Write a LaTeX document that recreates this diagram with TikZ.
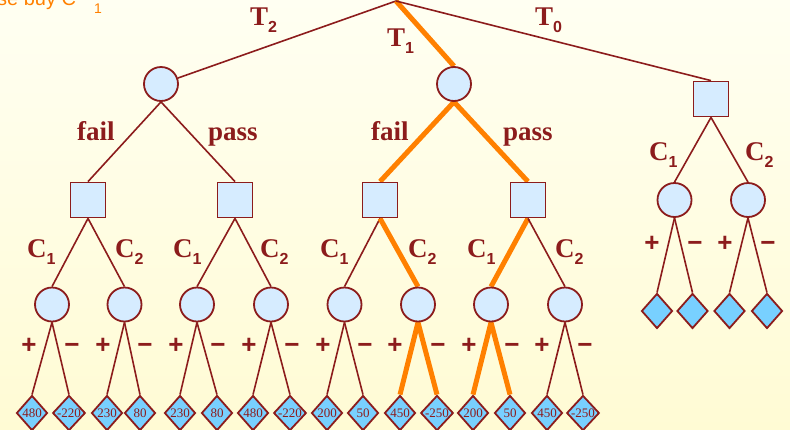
\documentclass[tikz,border=0pt]{standalone}
\usepackage{fontspec}
\setmainfont{Liberation Serif}
\newfontfamily\sansf{Liberation Sans}
\usetikzlibrary{shapes.geometric}
\pgfdeclarelayer{back}
\pgfdeclarelayer{bg}
\pgfsetlayers{back,bg,main}
\definecolor{dred}{RGB}{140,28,28}
\definecolor{cblue}{RGB}{214,236,255}
\definecolor{dblue}{RGB}{120,208,255}
\definecolor{orng}{RGB}{255,128,0}
\definecolor{bgtop}{RGB}{255,255,242}
\definecolor{bgbot}{RGB}{255,251,212}
\newcommand{\lab}[2]{{\bfseries #1}\raisebox{-7pt}{\sansf\fontsize{16}{16}\selectfont #2}}
\tikzset{
  chance/.style={circle, draw=dred, line width=1.8pt, fill=cblue, minimum size=34pt, inner sep=0pt},
  dec/.style={rectangle, draw=dred, line width=1.8pt, fill=cblue, minimum size=35pt, inner sep=0pt},
  leaf/.style={diamond, draw=dred, line width=1.8pt, fill=dblue, minimum width=31pt, minimum height=35pt, inner sep=0pt, text=dred, font=\fontsize{13}{13}\selectfont},
  lbl/.style={text=dred, font=\fontsize{27}{27}\selectfont\bfseries, inner sep=0pt, anchor=base west},
  pm/.style={text=dred, font=\sansf\bfseries\fontsize{26}{26}\selectfont, inner sep=0pt, anchor=base},
  e/.style={draw=dred, line width=1.6pt},
  o/.style={draw=orng, line width=5pt},
}
\begin{document}
\begin{tikzpicture}[x=1pt,y=-1pt]
\begin{pgfonlayer}{back}
\shade[top color=bgtop, bottom color=bgbot] (0,0) rectangle (790,429);
\end{pgfonlayer}
\useasboundingbox (0,0) rectangle (790,429);
% top fragment of text
\node[text=orng, font=\sansf\fontsize{20}{20}\selectfont, inner sep=0pt, anchor=base west] (hdr) at (-3,5) {se buy C\hspace{18pt}\raisebox{-8pt}{\fontsize{14}{14}\selectfont 1}};
\coordinate (root) at (396,1);
% level 1
\node[chance] (c1) at (161,84) {};
\node[chance] (c2) at (454,84) {};
\node[dec] (s0) at (711,99) {};
% level 2
\node[dec] (sA) at (88,200) {};
\node[dec] (sB) at (235,200) {};
\node[dec] (sC) at (380,200) {};
\node[dec] (sD) at (528,200) {};
\node[chance] (r1) at (674.5,200) {};
\node[chance] (r2) at (748,200) {};
% level 3
\foreach \n/\x in {1/52,2/124.5,3/197,4/271,5/344.5,6/418,7/491,8/565}
  \node[chance] (k\n) at (\x,304.5) {};
% leaves
\node[leaf] (l1) at (32,413) {480};
\node[leaf] (l2) at (69,413) {-220};
\node[leaf] (l3) at (107,413) {230};
\node[leaf] (l4) at (140,413) {80};
\node[leaf] (l5) at (180,413) {230};
\node[leaf] (l6) at (217,413) {80};
\node[leaf] (l7) at (253,413) {480};
\node[leaf] (l8) at (290,413) {-220};
\node[leaf] (l9) at (327,413) {200};
\node[leaf] (l10) at (363,413) {50};
\node[leaf] (l11) at (400,413) {450};
\node[leaf] (l12) at (437,413) {-250};
\node[leaf] (l13) at (473,413) {200};
\node[leaf] (l14) at (510,413) {50};
\node[leaf] (l15) at (547,413) {450};
\node[leaf] (l16) at (583,413) {-250};
\node[leaf] (m1) at (657,311) {};
\node[leaf] (m2) at (692.5,311) {};
\node[leaf] (m3) at (729.5,311) {};
\node[leaf] (m4) at (767,311) {};
% edges
\begin{pgfonlayer}{bg}
\draw[e] (root) -- (c1);
\draw[o] (root) -- (c2.north);
\draw[e] (root) -- (s0.north);
\draw[e] (c1.south) -- (sA.north);
\draw[e] (c1.south) -- (sB.north);
\draw[o] (c2.south) -- (sC.north);
\draw[o] (c2.south) -- (sD.north);
\draw[e] (sA.south) -- (k1.north);
\draw[e] (sA.south) -- (k2.north);
\draw[e] (sB.south) -- (k3.north);
\draw[e] (sB.south) -- (k4.north);
\draw[e] (sC.south) -- (k5.north);
\draw[o] (sC.south) -- (k6.north);
\draw[o] (sD.south) -- (k7.north);
\draw[e] (sD.south) -- (k8.north);
\draw[e] (s0.south) -- (r1.north);
\draw[e] (s0.south) -- (r2.north);
\foreach \k/\a/\b in {1/1/2,2/3/4,3/5/6,4/7/8,5/9/10,8/15/16}{
  \draw[e] (k\k.south) -- (l\a.north);
  \draw[e] (k\k.south) -- (l\b.north);
}
\foreach \k/\a/\b in {6/11/12,7/13/14}{
  \draw[o] (k\k.south) -- (l\a.north);
  \draw[o] (k\k.south) -- (l\b.north);
}
\draw[e] (r1.south) -- (m1.north);
\draw[e] (r1.south) -- (m2.north);
\draw[e] (r2.south) -- (m3.north);
\draw[e] (r2.south) -- (m4.north);
\end{pgfonlayer}
% labels
\node[lbl] (t2) at (250,25) {\lab{T}{2}};
\node[lbl] (t1) at (387,46) {\lab{T}{1}};
\node[lbl] (t0) at (535,25) {\lab{T}{0}};
\node[lbl] (f1) at (77,140) {fail};
\node[lbl] (p1) at (208,140) {pass};
\node[lbl] (f2) at (371,140) {fail};
\node[lbl] (p2) at (503,140) {pass};
\foreach \i/\x/\c in {1/27/1,2/115/2,3/173/1,4/260/2,5/320/1,6/408/2,7/467/1,8/555/2}
  \node[lbl] (cl\i) at (\x,257) {\lab{C}{\c}};
\node[lbl] (cr1) at (649,160) {\lab{C}{1}};
\node[lbl] (cr2) at (745,160) {\lab{C}{2}};
\foreach \i/\x in {1/29,2/103,3/176,4/249,5/323,6/395,7/469,8/542}
  \node[pm] (pl\i) at (\x,353.5) {+};
\foreach \i/\x in {1/72,2/145,3/218,4/292,5/365,6/438,7/512,8/585}
  \node[pm] (mi\i) at (\x,353.5) {−};
\node[pm] (pr1) at (652,251.5) {+};
\node[pm] (mr1) at (695,251.5) {−};
\node[pm] (pr2) at (725,251.5) {+};
\node[pm] (mr2) at (768,251.5) {−};
\end{tikzpicture}
\end{document}
